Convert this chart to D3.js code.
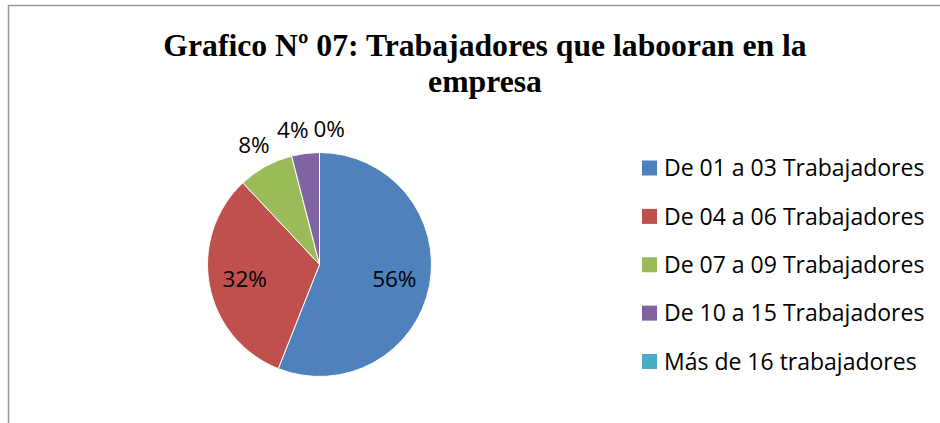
<!DOCTYPE html>
<html>
<head>
<meta charset="utf-8">
<script src="https://cdn.jsdelivr.net/npm/d3@7"></script>
<style>
	body { margin: 0; background: #fff; }
	svg { display: block; }
</style>
</head>
<body>
<div id="chart"></div>
<script>
// chart data
var categories = [
	"De 01 a 03 Trabajadores"
	, "De 04 a 06 Trabajadores"
	, "De 07 a 09 Trabajadores"
	, "De 10 a 15 Trabajadores"
	, "Más de 16 trabajadores"
];
var values = [56, 32, 8, 4, 0];
var colors = ["#4F81BD", "#C0504D", "#9BBB59", "#8064A2", "#4BACC6"];
var titleLines = ["Grafico Nº 07: Trabajadores que labooran en la", "empresa"];

var width = 940, height = 423
	, cx = 319.5, cy = 264.5, radius = 112
	, labelFont = "'Open Sans', Lato, sans-serif";

var svg = d3.select("#chart").append("svg")
	.attr("width", width)
	.attr("height", height);

// chart area border (only top and left show in the frame)
svg.append("rect")
	.attr("x", 8.5).attr("y", 5.5)
	.attr("width", width + 20).attr("height", height + 20)
	.attr("fill", "#fff")
	.attr("stroke", "#999")
	.attr("stroke-width", 1.5);

// --- TITLE --- \\
var title = svg.append("text")
	.attr("x", 485)
	.attr("y", 56)
	.attr("text-anchor", "middle")
	.style("font-family", "'Liberation Serif', 'Times New Roman', serif")
	.style("font-weight", "bold")
	.style("font-size", "31.7px")
	.attr("fill", "#000");

title.selectAll("tspan").data(titleLines)
	.enter().append("tspan")
	.attr("x", 485)
	.attr("dy", function(d, i) { return i === 0 ? 0 : 36; })
	.text(function(d) { return d; });

// --- PIE --- \\
var total = d3.sum(values)
	, fmt = d3.format(".0%");

var pie = d3.pie().sort(null).value(function(d) { return d; });
var arcs = pie(values);

var arc = d3.arc().innerRadius(0).outerRadius(radius);
var inArc = d3.arc().innerRadius(radius * 0.68).outerRadius(radius * 0.68);
var outArc = d3.arc().innerRadius(radius + 24).outerRadius(radius + 24);

var g = svg.append("g").attr("transform", "translate(" + cx + "," + cy + ")");

g.selectAll(".slice").data(arcs)
	.enter().append("path")
	.attr("class", "slice")
	.attr("d", arc)
	.attr("fill", function(d, i) { return colors[i]; })
	.attr("stroke", "#fff")
	.attr("stroke-width", 1);

var lbl = g.selectAll(".lbl").data(arcs)
	.enter().append("text")
	.attr("class", "lbl")
	.attr("text-anchor", "middle")
	.attr("dy", "0.36em")
	.style("font-family", labelFont)
	.style("font-size", "22.5px")
	.attr("fill", "#000")
	.text(function(d) { return fmt(d.value / total); });

// inside for big slices, outside for small ones
var pos = arcs.map(function(d) {
	var inside = d.value / total >= 0.15;
	var c = inside ? inArc.centroid(d) : outArc.centroid(d);
	return { x: c[0], y: c[1], inside: inside };
});

// push overlapping outside labels apart horizontally
lbl.each(function(d, i) { pos[i].w = this.getComputedTextLength(); });
for (var i = 0; i < pos.length; i++) {
	for (var j = i + 1; j < pos.length; j++) {
		var a = pos[i], b = pos[j];
		if (a.inside || b.inside) continue;
		if (Math.abs(a.y - b.y) > 22) continue;
		var need = (a.w + b.w) / 2 + 5, dist = Math.abs(a.x - b.x);
		if (dist < need) {
			var s = (need - dist) / 2, sign = a.x <= b.x ? 1 : -1;
			a.x -= s * sign; b.x += s * sign;
		}
	}
}
lbl.attr("x", function(d, i) { return pos[i].x; })
	.attr("y", function(d, i) { return pos[i].y; });

// --- LEGEND --- \\
var legendY = d3.scalePoint().domain(categories).range([168, 361.5]);

var leg = svg.selectAll(".legend").data(categories)
	.enter().append("g")
	.attr("class", "legend")
	.attr("transform", function(d) { return "translate(642," + legendY(d) + ")"; });

leg.append("rect")
	.attr("x", 0).attr("y", -7.5)
	.attr("width", 15).attr("height", 15)
	.attr("fill", function(d, i) { return colors[i]; });

leg.append("text")
	.attr("x", 22)
	.attr("dy", "0.36em")
	.style("font-family", labelFont)
	.style("font-size", "23px")
	.attr("fill", "#000")
	.text(function(d) { return d; });
</script>
</body>
</html>
